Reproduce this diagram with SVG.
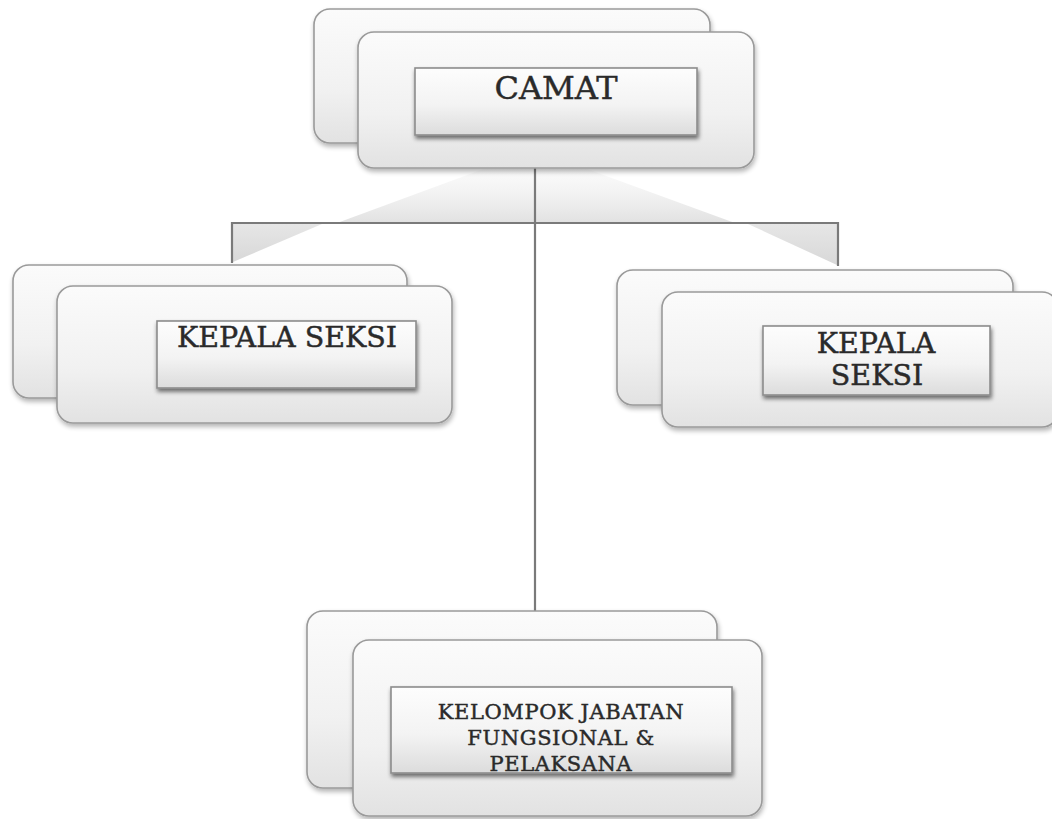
<svg xmlns="http://www.w3.org/2000/svg" width="1052" height="819" viewBox="0 0 1052 819">
  <defs>
    <linearGradient id="cardFill" x1="0" y1="0" x2="0" y2="1">
      <stop offset="0" stop-color="#fbfbfb"/>
      <stop offset="0.6" stop-color="#f1f1f1"/>
      <stop offset="1" stop-color="#e2e2e2"/>
    </linearGradient>
    <linearGradient id="boxFill" x1="0" y1="0" x2="0" y2="1">
      <stop offset="0" stop-color="#fdfdfd"/>
      <stop offset="0.55" stop-color="#f3f3f3"/>
      <stop offset="1" stop-color="#dcdcdc"/>
    </linearGradient>
    <linearGradient id="hazeUp" x1="0" y1="1" x2="0" y2="0">
      <stop offset="0" stop-color="#dcdcdc" stop-opacity="0.85"/>
      <stop offset="0.7" stop-color="#eeeeee" stop-opacity="0.3"/>
      <stop offset="1" stop-color="#f4f4f4" stop-opacity="0"/>
    </linearGradient>
    <linearGradient id="wedge" x1="0" y1="0" x2="0" y2="1">
      <stop offset="0" stop-color="#e6e6e6"/>
      <stop offset="1" stop-color="#d8d8d8"/>
    </linearGradient>
    <filter id="cardShadow" x="-5%" y="-5%" width="112%" height="120%">
      <feGaussianBlur in="SourceAlpha" stdDeviation="2.5"/>
      <feOffset dx="1" dy="3" result="b"/>
      <feComponentTransfer><feFuncA type="linear" slope="0.3"/></feComponentTransfer>
      <feMerge><feMergeNode/><feMergeNode in="SourceGraphic"/></feMerge>
    </filter>
    <filter id="boxShadow" x="-5%" y="-10%" width="112%" height="130%">
      <feGaussianBlur in="SourceAlpha" stdDeviation="2"/>
      <feOffset dx="1" dy="3" result="b"/>
      <feComponentTransfer><feFuncA type="linear" slope="0.55"/></feComponentTransfer>
      <feMerge><feMergeNode/><feMergeNode in="SourceGraphic"/></feMerge>
    </filter>
  </defs>
  <style>
    .card { fill: url(#cardFill); stroke: #9a9a9a; stroke-width: 1.6; filter: url(#cardShadow); }
    .box { fill: url(#boxFill); stroke: #8c8c8c; stroke-width: 1.6; filter: url(#boxShadow); }
    .lbl { font-family: "DejaVu Serif", "Liberation Serif", serif; fill: #2a2a2a; stroke: #2a2a2a; stroke-width: 0.45; text-anchor: middle; }
    .small { font-size: 21px; letter-spacing: 0.6px; }
    .link { stroke: #7a7a7a; stroke-width: 2.2; fill: none; }
    .haze { fill: url(#hazeUp); stroke: none; }
    .wedge { fill: url(#wedge); stroke: none; }
  </style>

  <rect width="1052" height="819" fill="#ffffff"/>

  <!-- connectors -->
  <g id="connectors">
    <polygon class="haze" points="337,223 535,150 735,223"/>
    <polygon class="wedge" points="233,224 322,224 233,262"/>
    <polygon class="wedge" points="748,224 837,224 837,265"/>
    <path class="link" d="M535,168 V611"/>
    <path class="link" d="M232,263 V223 H838 V266"/>
  </g>

  <!-- CAMAT -->
  <g id="camat">
    <rect class="card" x="314" y="9" width="396" height="134" rx="16"/>
    <rect class="card" x="358" y="32" width="396" height="136" rx="16"/>
    <rect class="box" x="415" y="68" width="282" height="67"/>
    <text class="lbl" x="556" y="99" font-size="32">CAMAT</text>
  </g>

  <!-- KEPALA SEKSI (left) -->
  <g id="kepala-seksi-left">
    <rect class="card" x="13" y="265" width="394" height="133" rx="16"/>
    <rect class="card" x="57" y="286" width="395" height="137" rx="16"/>
    <rect class="box" x="157" y="321" width="259" height="67"/>
    <text class="lbl" x="287" y="347" font-size="28.5">KEPALA SEKSI</text>
  </g>

  <!-- KEPALA SEKSI (right) -->
  <g id="kepala-seksi-right">
    <rect class="card" x="617" y="270" width="396" height="135" rx="16"/>
    <rect class="card" x="662" y="292" width="396" height="135" rx="16"/>
    <rect class="box" x="763" y="326" width="227" height="69"/>
    <text class="lbl" x="876" y="353" font-size="28.5">KEPALA</text>
    <text class="lbl" x="877" y="385" font-size="28.5">SEKSI</text>
  </g>

  <!-- KELOMPOK JABATAN FUNGSIONAL & PELAKSANA -->
  <g id="kelompok-jabatan">
    <rect class="card" x="307" y="611" width="410" height="177" rx="16"/>
    <rect class="card" x="353" y="640" width="409" height="176" rx="16"/>
    <rect class="box" x="391" y="687" width="341" height="86"/>
    <text class="lbl small" x="561" y="719">KELOMPOK JABATAN</text>
    <text class="lbl small" x="561" y="745">FUNGSIONAL &amp;</text>
    <text class="lbl small" x="561" y="771">PELAKSANA</text>
  </g>
</svg>
